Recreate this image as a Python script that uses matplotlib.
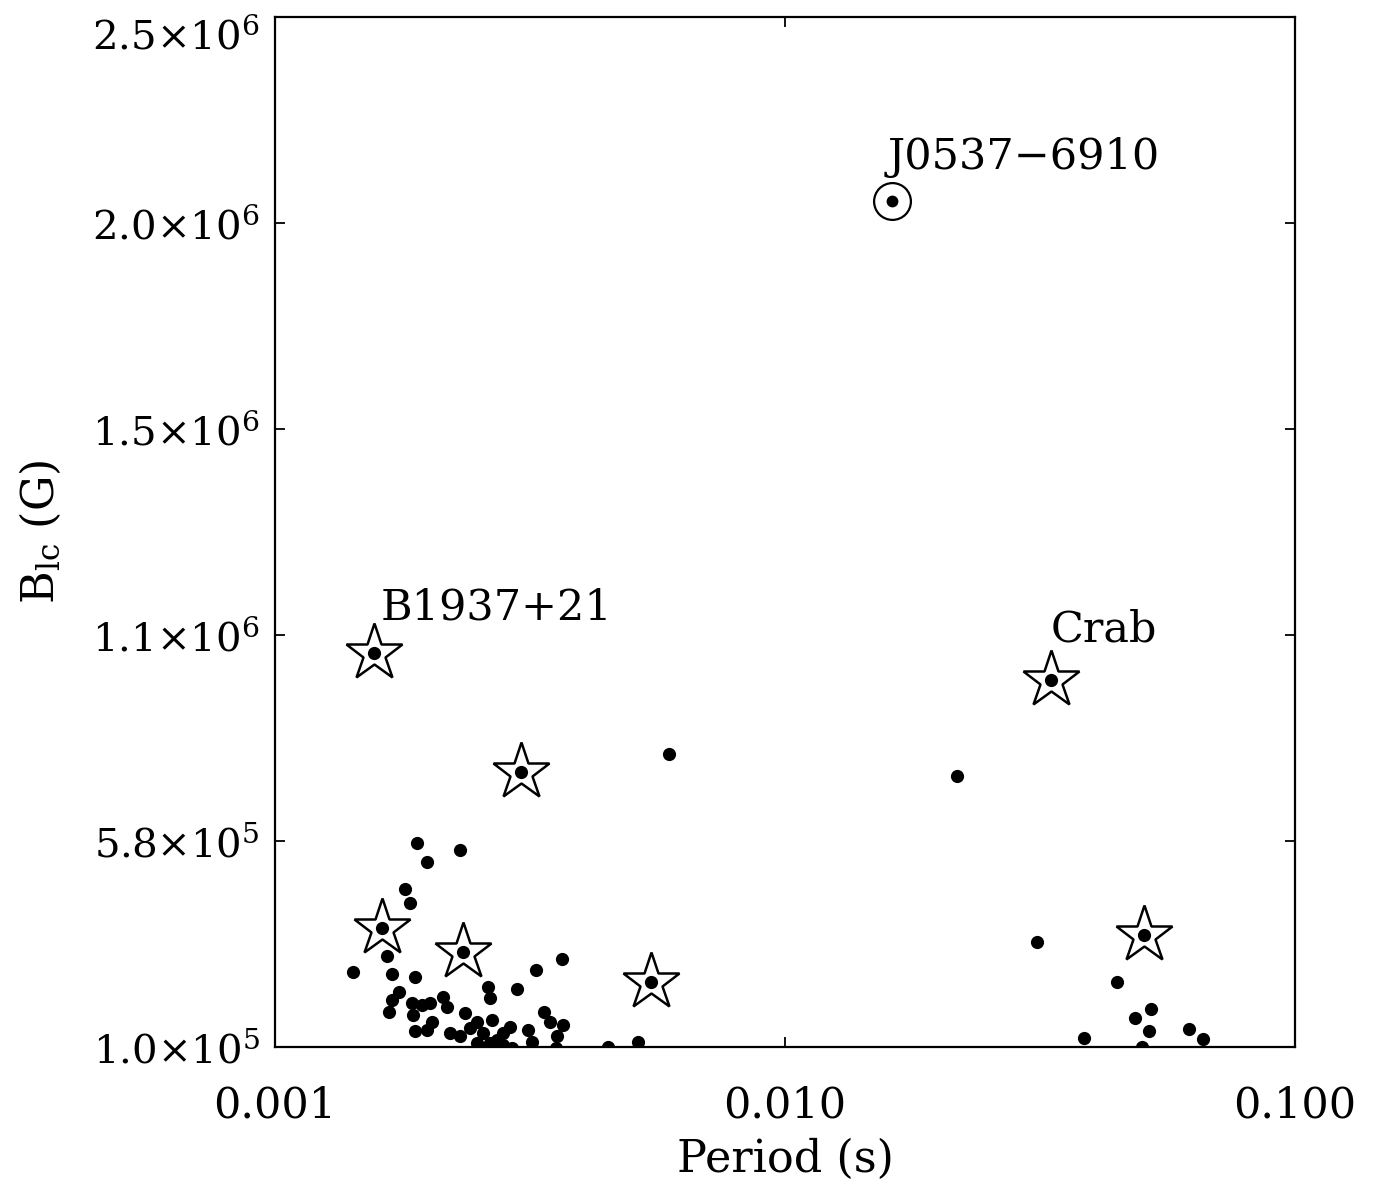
import matplotlib
matplotlib.use("Agg")
import matplotlib.pyplot as plt

# pulsares (periodo em s, campo no cilindro de luz em G)
period_dots = [0.005923, 0.02175, 0.03125, 0.04472, 0.05213, 0.04857, 0.05166, 0.03863, 0.06187, 0.06592, 0.05005,
               0.001901, 0.002305, 0.001989, 0.001799, 0.001840, 0.001656, 0.001424, 0.001696, 0.001881, 0.003660,
               0.003249, 0.002619, 0.002640, 0.002978, 0.001753, 0.001694, 0.001671, 0.001854, 0.001867, 0.002013,
               0.002138, 0.002171, 0.001939, 0.002357, 0.002029, 0.001984, 0.001881, 0.002203, 0.002305, 0.003373,
               0.003460, 0.003676, 0.003568, 0.003139, 0.003187, 0.002486, 0.002660, 0.002889, 0.002803, 0.002561,
               0.002412, 0.002486, 0.002640, 0.002803, 0.002721, 0.005160, 0.004504, 0.002911, 0.003556, 0.002525,
               0.002700]
blc_dots = [7.83e5, 7.31e5, 3.44e5, 2.52e5, 1.89e5, 1.68e5, 1.38e5, 1.22e5, 1.41e5, 1.19e5, 0.99e5,
            5.75e5, 5.59e5, 5.31e5, 4.68e5, 4.35e5, 3.12e5, 2.75e5, 2.70e5, 2.64e5, 3.04e5,
            2.80e5, 2.39e5, 2.15e5, 2.36e5, 2.27e5, 2.10e5, 1.81e5, 2.02e5, 1.75e5, 2.03e5,
            2.17e5, 1.94e5, 1.98e5, 1.80e5, 1.59e5, 1.40e5, 1.38e5, 1.32e5, 1.26e5, 1.82e5,
            1.59e5, 1.52e5, 1.26e5, 1.40e5, 1.12e5, 1.59e5, 1.63e5, 1.47e5, 1.32e5, 1.32e5,
            1.44e5, 1.09e5, 1.09e5, 1.05e5, 1.16e5, 1.12e5, 0.99e5, 0.98e5, 0.97e5, 0.99e5,
            0.98e5]

# pulsares marcados com estrela
period_stars = [0.001563, 0.003038, 0.001619, 0.002339, 0.005462, 0.03324, 0.05057]
blc_stars = [1.018e6, 7.41e5, 3.77e5, 3.21e5, 2.51e5, 9.55e5, 3.61e5]

# J0537-6910
period_circle = [0.01621]
blc_circle = [2.071e6]

# nomes
labels = ['J0537\u22126910', 'B1937+21', 'Crab']
label_period = [0.01621, 0.001563, 0.03324]
label_blc = [2.071e6, 1.018e6, 9.55e5]

x_ticks = [0.001, 0.01, 0.1]
x_ticklabels = ['0.001', '0.010', '0.100']
y_ticks = [1.0e5, 5.8e5, 1.06e6, 1.54e6, 2.02e6, 2.5e6]
y_ticklabels = ['1.0\u00d710$^{5}$', '5.8\u00d710$^{5}$', '1.1\u00d710$^{6}$',
                '1.5\u00d710$^{6}$', '2.0\u00d710$^{6}$', '2.5\u00d710$^{6}$']

plt.rcParams['font.family'] = ['DejaVu Serif']
plt.rcParams['mathtext.fontset'] = 'dejavuserif'
plt.rcParams['mathtext.default'] = 'regular'

fig = plt.figure(figsize=(13.76, 11.81), dpi=100)
ax = fig.add_axes([0.1999, 0.1135, 0.7412, 0.8721])

ax.plot(period_dots, blc_dots, 'o', color='black', markersize=9.5, markeredgewidth=0)
ax.plot(period_stars, blc_stars, '*', markersize=43, markerfacecolor='white',
        markeredgecolor='black', markeredgewidth=1.8)
ax.plot(period_stars, blc_stars, 'o', color='black', markersize=9.5, markeredgewidth=0)
ax.plot(period_circle, blc_circle, 'o', markersize=26.5, markerfacecolor='white',
        markeredgecolor='black', markeredgewidth=1.6)
ax.plot(period_circle, blc_circle, 'o', color='black', markersize=8.5, markeredgewidth=0)

offsets = [(-3, 23), (5, 24), (0, 28)]
for nome, p, b, off in zip(labels, label_period, label_blc, offsets):
    ax.annotate(nome, (p, b), xytext=off, textcoords='offset points',
                ha='left', va='baseline', fontsize=31)

ax.set_xscale('log')
ax.set_xlim(0.001, 0.1)
ax.set_ylim(1.0e5, 2.5e6)
ax.set_xticks(x_ticks)
ax.set_xticklabels(x_ticklabels)
ax.minorticks_off()
ax.set_yticks(y_ticks)
ax.set_yticklabels(y_ticklabels)

ax.tick_params(direction='in', length=7.5, width=1.3, top=True, right=True)
ax.tick_params(axis='x', pad=27, labelsize=31)
ax.tick_params(axis='y', pad=11, labelsize=29)
# o rotulo de cima fica abaixo do topo, como no original
ax.get_yticklabels()[-1].set_va('top')
for s in ax.spines.values():
    s.set_linewidth(1.6)

ax.set_xlabel('Period (s)', fontsize=32, labelpad=8)
ax.set_ylabel('B$_{lc}$ (G)', fontsize=32)
ax.yaxis.set_label_coords(-0.208, 0.5)

fig.savefig('out.png', dpi=100)
